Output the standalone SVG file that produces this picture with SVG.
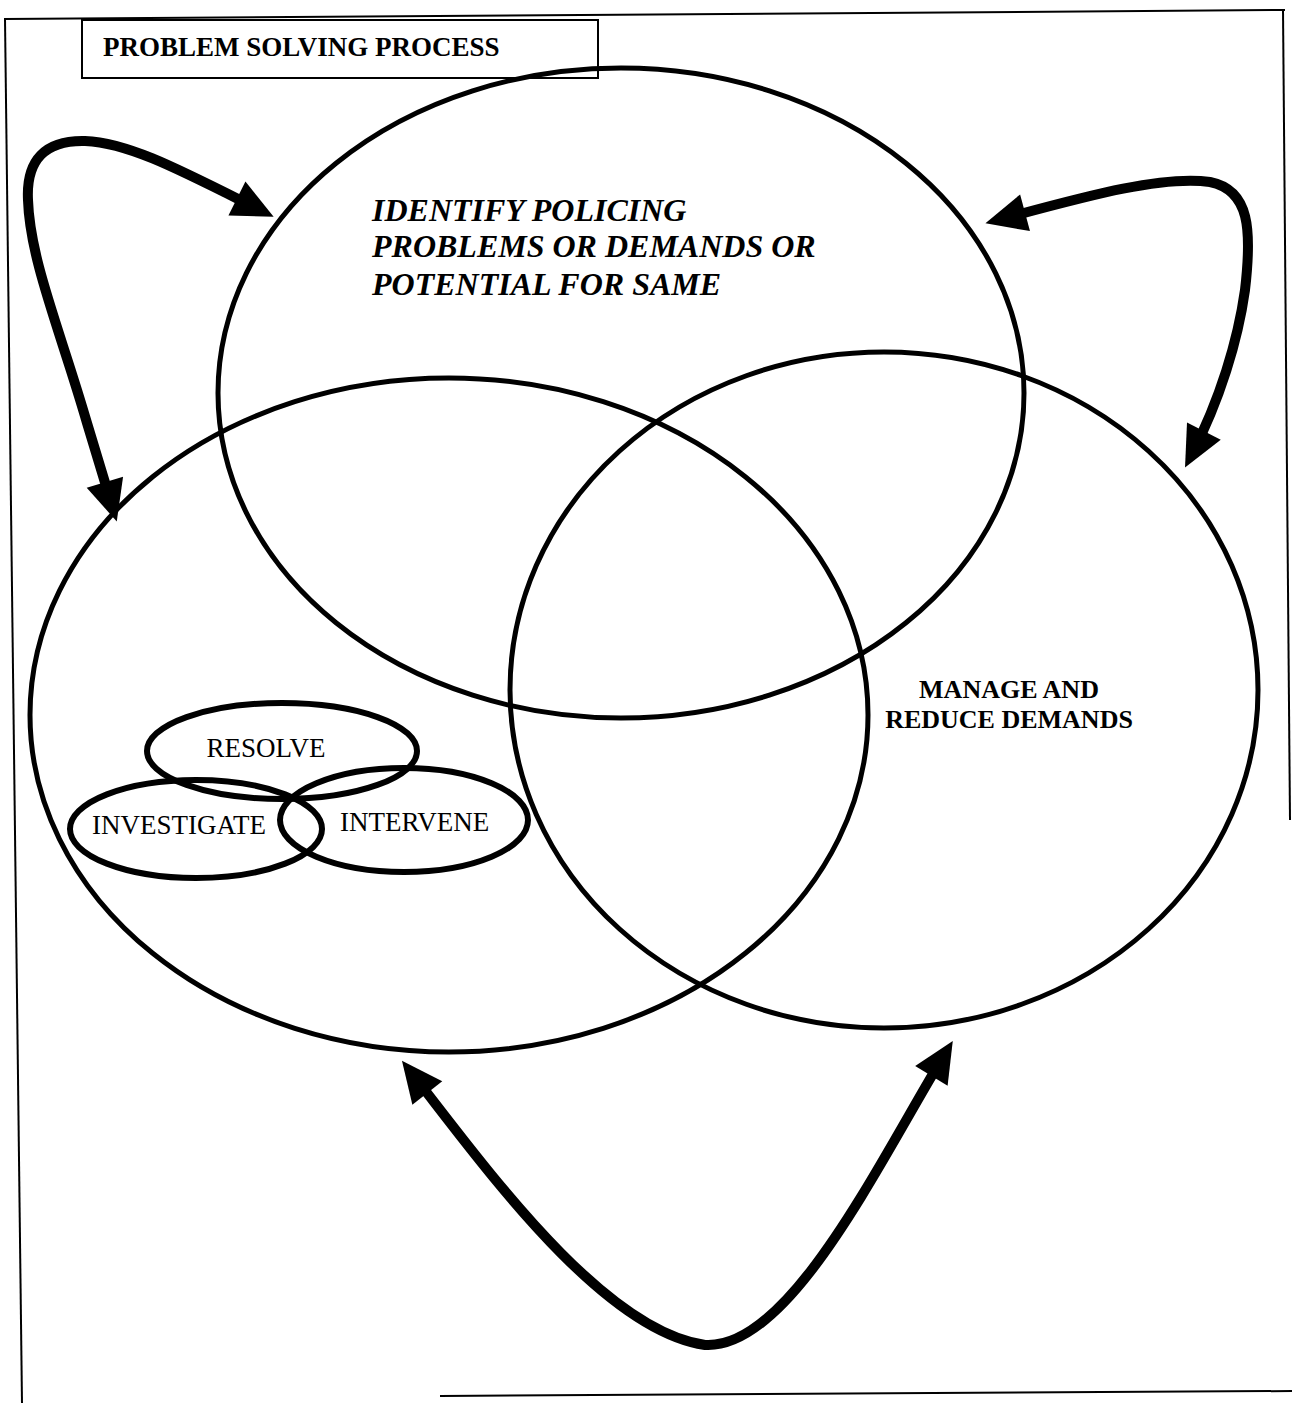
<svg xmlns="http://www.w3.org/2000/svg" width="1292" height="1403" viewBox="0 0 1292 1403">
  <style>
    .frame { fill: none; stroke: #000; stroke-width: 2; }
    .big { fill: none; stroke: #000; stroke-width: 5; }
    .small { fill: none; stroke: #000; stroke-width: 6; }
    .arrow { fill: none; stroke: #000; stroke-width: 10; stroke-linecap: butt; stroke-linejoin: round; marker-start: url(#head); marker-end: url(#head); }
    .serif { font-family: "Liberation Serif", "Times New Roman", serif; fill: #000; }
    .title { font-size: 27px; font-weight: bold; }
    .ident { font-size: 32px; font-weight: bold; font-style: italic; }
    .manage { font-size: 26px; font-weight: bold; }
    .sub { font-size: 27px; }
  </style>
  <defs>
    <marker id="head" markerUnits="userSpaceOnUse" markerWidth="44" markerHeight="40" refX="28" refY="19" orient="auto-start-reverse" overflow="visible">
      <path d="M0,0 L41,19 L0,38 Z" fill="#000"/>
    </marker>
  </defs>
  <rect width="1292" height="1403" fill="#fff"/>

  <g id="frame">
    <line class="frame" x1="4" y1="19" x2="1285" y2="10"/>
    <line class="frame" x1="5" y1="19" x2="22" y2="1403"/>
    <line class="frame" x1="1283" y1="10" x2="1290" y2="820"/>
    <line class="frame" x1="440" y1="1396" x2="1292" y2="1391"/>
  </g>

  <g id="title">
    <rect x="82" y="20" width="516" height="58" fill="#fff" stroke="#000" stroke-width="2"/>
    <text class="serif title" x="103" y="56">PROBLEM SOLVING PROCESS</text>
  </g>

  <g id="connectors">
    <path class="arrow" d="M113,509 L87,423 C60,330 30,260 28,200 C26,160 45,140 85,141 C130,143 180,170 262,211"/>
    <path class="arrow" d="M998,220 C1080,198 1160,175 1210,182 C1250,190 1252,230 1245,290 C1238,340 1220,400 1191,456"/>
    <path class="arrow" d="M410,1071 C480,1160 600,1330 705,1345 C790,1350 880,1160 946,1052"/>
  </g>

  <g id="identify">
    <ellipse class="big" cx="621" cy="393" rx="403" ry="325"/>
    <text class="serif ident" x="372" y="221">IDENTIFY POLICING</text>
    <text class="serif ident" x="372" y="257">PROBLEMS OR DEMANDS OR</text>
    <text class="serif ident" x="372" y="295">POTENTIAL FOR SAME</text>
  </g>

  <g id="left-circle">
    <ellipse class="big" cx="449" cy="715" rx="419" ry="337"/>
  </g>

  <g id="manage">
    <ellipse class="big" cx="884" cy="690" rx="374" ry="338"/>
    <text class="serif manage" x="1009" y="698" text-anchor="middle">MANAGE AND</text>
    <text class="serif manage" x="1009" y="728" text-anchor="middle">REDUCE DEMANDS</text>
  </g>

  <g id="resolve">
    <ellipse class="small" cx="282" cy="751" rx="135" ry="48"/>
    <text class="serif sub" x="266" y="757" text-anchor="middle">RESOLVE</text>
  </g>

  <g id="investigate">
    <ellipse class="small" cx="196" cy="829" rx="126" ry="49"/>
    <text class="serif sub" x="92" y="834">INVESTIGATE</text>
  </g>

  <g id="intervene">
    <ellipse class="small" cx="404" cy="820" rx="124" ry="52"/>
    <text class="serif sub" x="340" y="831">INTERVENE</text>
  </g>
</svg>
